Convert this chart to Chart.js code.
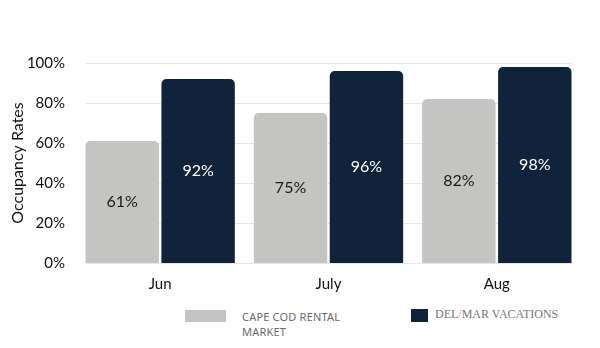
<!DOCTYPE html>
<html>
<head>
<meta charset="utf-8">
<script src="https://cdn.jsdelivr.net/npm/chart.js@4"></script>
<style>
  body { margin: 0; background: #fff; }
  #wrap { position: relative; width: 600px; height: 348px; }
  #chartBox { position: absolute; left: 0; top: 0; width: 600px; height: 296px; }
  .leg { position: absolute; font-size: 11px; line-height: 15px; }
  .sw { position: absolute; }
</style>
</head>
<body>
<div id="wrap">
  <div id="chartBox"><canvas id="chart" width="600" height="296"></canvas></div>
  <div class="sw" style="left:185px;top:310px;width:41px;height:12px;background:#c4c4c2;"></div>
  <div class="leg" style="left:242px;top:309px;font-family:'Noto Sans',sans-serif;color:#6b6b6b;letter-spacing:0.2px;">CAPE COD RENTAL<br>MARKET</div>
  <div class="sw" style="left:411px;top:309px;width:17px;height:13px;background:#10233a;"></div>
  <div class="leg" style="left:435px;top:307px;font-family:'Liberation Serif',serif;font-size:12px;color:#777;">DEL<span style="color:#e8846e">/</span>MAR VACATIONS</div>
</div>
<script>
// Chart data
const months = ['Jun', 'July', 'Aug'];
const capeCod = [61, 75, 82];
const delMar = [92, 96, 98];
const yTicks = [0, 20, 40, 60, 80, 100];

// Horizontal grid lines run only from the first bar to the last bar
const gridLines = {
    id: 'gridLines',
    beforeDatasetsDraw(chart) {
        const ctx = chart.ctx;
        const first = chart.getDatasetMeta(0).data[0];
        const lastMeta = chart.getDatasetMeta(1).data;
        const last = lastMeta[lastMeta.length - 1];
        const x0 = first.x - first.width / 2;
        const x1 = last.x + last.width / 2;
        ctx.save();
        ctx.strokeStyle = '#e6e6e6';
        ctx.lineWidth = 1;
        yTicks.forEach(v => {
            const y = Math.round(chart.scales.y.getPixelForValue(v)) + 0.5;
            ctx.beginPath();
            ctx.moveTo(x0, y);
            ctx.lineTo(x1, y);
            ctx.stroke();
        });
        ctx.restore();
    }
};

// Draw the percent inside each bar, centred vertically
const barLabels = {
    id: 'barLabels',
    afterDatasetsDraw(chart) {
        const ctx = chart.ctx;
        ctx.save();
        ctx.font = '16px Lato';
        ctx.textAlign = 'center';
        ctx.textBaseline = 'middle';
        chart.data.datasets.forEach((ds, i) => {
            const meta = chart.getDatasetMeta(i);
            meta.data.forEach((bar, j) => {
                ctx.fillStyle = i === 0 ? '#1a1a1a' : '#ffffff';
                const y = (bar.y + bar.base) / 2;
                ctx.fillText(ds.data[j] + '%', bar.x, y);
            });
        });
        ctx.restore();
    }
};

new Chart(document.getElementById('chart'), {
    type: 'bar',
    data: {
        labels: months,
        datasets: [
            {
                label: 'CAPE COD RENTAL MARKET',
                data: capeCod,
                backgroundColor: '#c4c4c2',
                borderRadius: { topLeft: 5, topRight: 5 },
                borderSkipped: 'bottom',
                categoryPercentage: 0.902,
                barPercentage: 0.967
            },
            {
                label: 'DEL/MAR VACATIONS',
                data: delMar,
                backgroundColor: '#10233a',
                borderRadius: { topLeft: 5, topRight: 5 },
                borderSkipped: 'bottom',
                categoryPercentage: 0.902,
                barPercentage: 0.967
            }
        ]
    },
    options: {
        responsive: false,
        animation: false,
        maintainAspectRatio: false,
        layout: { padding: { top: 63, right: 19, left: 0, bottom: 0 } },
        plugins: {
            legend: { display: false },
            tooltip: { enabled: false }
        },
        scales: {
            x: {
                grid: { display: false },
                border: { display: false },
                ticks: { color: '#111', font: { family: 'Lato', size: 15 }, padding: 4 },
                afterFit(scale) { scale.height = 33; }
            },
            y: {
                min: 0,
                max: 100,
                afterBuildTicks(axis) {
                    axis.ticks = yTicks.map(v => ({ value: v }));
                },
                afterFit(scale) { scale.width = 76; },
                ticks: {
                    color: '#111',
                    font: { family: 'Lato', size: 15 },
                    padding: 3,
                    callback: v => v + '%'
                },
                grid: { display: false },
                border: { display: false },
                title: {
                    display: true,
                    text: 'Occupancy Rates',
                    color: '#111',
                    font: { family: 'Lato', size: 16 },
                    padding: { top: 8, bottom: 0 }
                }
            }
        }
    },
    plugins: [gridLines, barLabels]
});
</script>
</body>
</html>
